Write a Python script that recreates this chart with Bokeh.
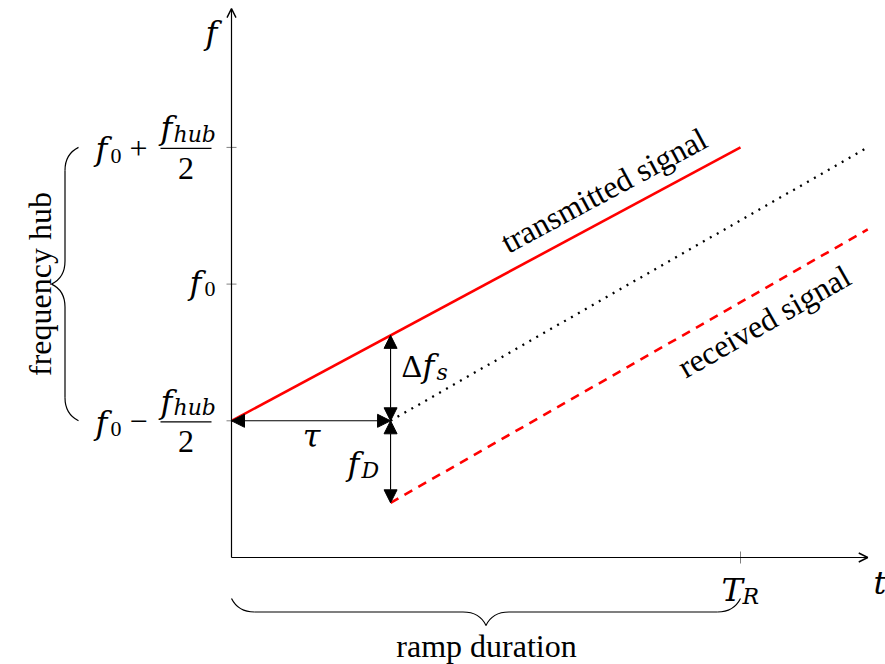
import math
from bokeh.plotting import figure
from bokeh.models import Range1d, Arrow, NormalHead, OpenHead
from bokeh.core.properties import value
from bokeh.embed import file_html
from bokeh.resources import INLINE

# ---------------- data (diagram units) ----------------
t_axis_max = 5.0          # end of time axis
f_axis_max = 4.0          # end of frequency axis
T_R = 4.0                 # ramp duration
tau = 1.25                # delay
f_ticks = [1.0, 2.0, 3.0] # f0 - fhub/2, f0, f0 + fhub/2
f_D = 0.6                 # doppler shift

tx_t = [0.0, T_R]                       # transmitted signal
tx_f = [f_ticks[0], f_ticks[2]]
echo_t = [tau, t_axis_max]              # delayed copy (dotted)
echo_f = [f_ticks[0], f_ticks[2]]
rx_t = [tau, t_axis_max]                # received signal (dashed)
rx_f = [f_ticks[0] - f_D, f_ticks[2] - f_D]
tx_at_tau = tx_f[0] + (tx_f[1] - tx_f[0]) * (tau - tx_t[0]) / (tx_t[1] - tx_t[0])

# ---------------- canvas mapping ----------------
W, H = 885, 664
OX, OY = 231.0, 557.0      # pixel position of origin
XU, YU = 127.25, 136.7     # pixels per unit

def X(px):
    return (px - OX) / XU

def Y(py):
    return (OY - py) / YU

def PX(x):
    return OX + x * XU

def PY(y):
    return OY - y * YU

p = figure(width=W, height=H, output_backend="svg", toolbar_location=None,
           x_range=Range1d(-OX / XU, (W - OX) / XU),
           y_range=Range1d(-(H - OY) / YU, OY / YU),
           x_axis_type=None, y_axis_type=None, min_border=0,
           outline_line_color=None, background_fill_color="white",
           border_fill_color="white")
p.grid.visible = False

SERIF = "Liberation Serif"
MATH = "DejaVu Serif"
BIG = 32
SMALL = 22

def txt(px, py, s, size=BIG, italic=False, align="left", angle=0.0, font=None):
    # baseline correction (renderer places alphabetic baseline ~0.22em low)
    sh = 0.22 * size
    ox = px + sh * math.sin(angle)
    oy = py - sh * math.cos(angle)
    fam = font if font else (MATH if italic else SERIF)
    p.text(x=[X(ox)], y=[Y(oy)], text=[s], text_font=value(fam),
           text_font_size=f"{size}px",
           text_font_style="italic" if italic else "normal", text_color="black",
           text_align=align, text_baseline="alphabetic", angle=angle)

# ---------------- axes ----------------
p.add_layout(Arrow(end=OpenHead(size=9, line_width=1.4, line_color="black"),
                   x_start=0, y_start=0, x_end=t_axis_max, y_end=0,
                   line_width=1.2, line_color="black"))
p.add_layout(Arrow(end=OpenHead(size=9, line_width=1.4, line_color="black"),
                   x_start=0, y_start=0, x_end=0, y_end=f_axis_max + 0.015,
                   line_width=1.2, line_color="black"))

# tick marks
p.segment(x0=[X(OX - 5)] * 3, x1=[X(OX + 5)] * 3, y0=f_ticks, y1=f_ticks,
          line_color="#808080", line_width=1)
p.segment(x0=[T_R], x1=[T_R], y0=[Y(OY + 6)], y1=[Y(OY - 6)],
          line_color="#808080", line_width=1)

# ---------------- signals ----------------
p.line(echo_t, echo_f, line_color="black", line_width=2.3, line_dash="2 6")
p.line(rx_t, rx_f, line_color="#ff0000", line_width=2.6, line_dash="9 7")
p.line(tx_t, tx_f, line_color="#ff0000", line_width=2.6)

# ---------------- measurement arrows ----------------
def dbl_arrow(x0, y0, x1, y1):
    p.add_layout(Arrow(start=NormalHead(size=13, fill_color="black", line_color="black"),
                       end=NormalHead(size=13, fill_color="black", line_color="black"),
                       x_start=x0, y_start=y0, x_end=x1, y_end=y1,
                       line_width=1.1, line_color="black"))

dbl_arrow(0, f_ticks[0], tau, f_ticks[0])
dbl_arrow(tau, f_ticks[0], tau, tx_at_tau)
dbl_arrow(tau, f_ticks[0], tau, f_ticks[0] - f_D)

# ---------------- braces ----------------
def brace(ax, ay, bx, by, nx, ny, amp=27.0):
    L = math.hypot(bx - ax, by - ay)
    ux, uy = (bx - ax) / L, (by - ay) / L
    h = amp / 2.0
    m = L / 2.0
    def pt(s, d):
        return X(ax + s * ux + d * nx), Y(ay + s * uy + d * ny)
    curves = [
        [(0, 0), (3, 6), (10, h), (23, h)],
        [(m - 23, h), (m - 10, h), (m - 3, h + 7), (m, amp)],
        [(m, amp), (m + 3, h + 7), (m + 10, h), (m + 23, h)],
        [(L - 23, h), (L - 10, h), (L - 3, 6), (L, 0)],
    ]
    for c in curves:
        (x0, y0), (cx0, cy0), (cx1, cy1), (x1, y1) = [pt(*q) for q in c]
        p.bezier(x0=[x0], y0=[y0], cx0=[cx0], cy0=[cy0], cx1=[cx1], cy1=[cy1],
                 x1=[x1], y1=[y1], line_color="black", line_width=1.2)
    for s0, s1 in [(23, m - 23), (m + 23, L - 23)]:
        a, b = pt(s0, h), pt(s1, h)
        p.segment(x0=[a[0]], y0=[a[1]], x1=[b[0]], y1=[b[1]],
                  line_color="black", line_width=1.2)

brace(78, PY(f_ticks[2]), 78, PY(f_ticks[0]), -1, 0)      # frequency hub
brace(PX(0), OY + 41, PX(T_R), OY + 41, 0, 1)              # ramp duration

# ---------------- labels ----------------
txt(205, 40, "f", italic=True)
txt(873, 590, "t", italic=True)
txt(721, 597, "T", italic=True)
txt(742, 601, "R", size=SMALL, italic=True)

ty = PY(f_ticks[1])
txt(189, ty + 6, "f", italic=True)
txt(204, ty + 10, "0", size=SMALL)

for fv, op in [(f_ticks[2], "+"), (f_ticks[0], "\u2212")]:
    ty = PY(fv)
    txt(95, ty + 9, "f", italic=True)
    txt(110, ty + 13, "0", size=SMALL)
    txt(138, ty + 8, op, align="center")
    txt(160, ty - 12, "f", italic=True)
    txt(173, ty - 8, "hub", size=SMALL, italic=True)
    p.segment(x0=[X(160)], x1=[X(211)], y0=[Y(ty + 1)], y1=[Y(ty + 1)],
              line_color="black", line_width=1.2)
    txt(185.5, ty + 28, "2", align="center")

txt(401, 373, "\u0394")
txt(422, 373, "f", italic=True)
txt(436, 377, "s", size=SMALL, italic=True)
txt(311, 443, "\u03c4", italic=True, align="center")
txt(347, 471, "f", italic=True)
txt(361, 475, "D", size=SMALL, italic=True)

txt(600, 196, "transmitted signal", align="center", angle=math.atan2(273, 509))
txt(760, 327, "received signal", align="center", angle=math.atan2(272, 477))
txt(486, 653, "ramp duration", align="center")
txt(32, 283.5, "frequency hub", align="center", angle=math.pi / 2)

open("out.html", "w").write(file_html(p, INLINE))
